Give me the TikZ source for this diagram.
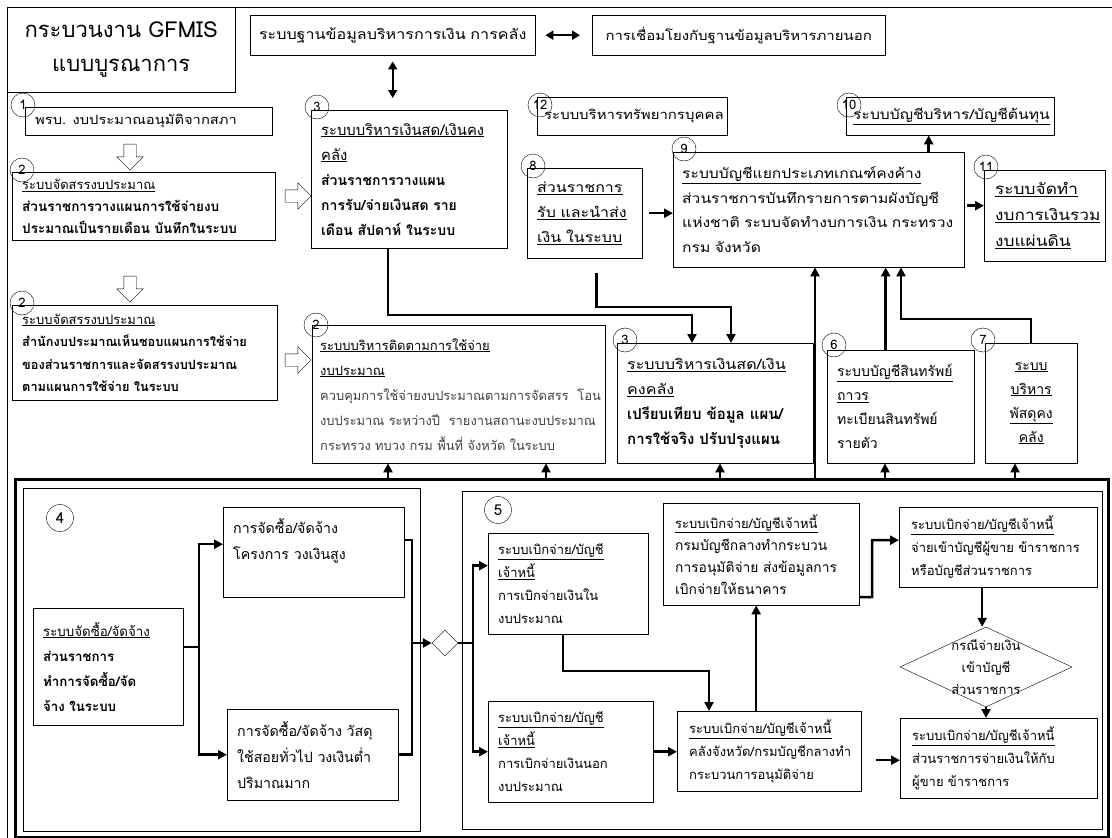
\documentclass[tikz,border=0pt]{standalone}
\usepackage{fontspec}
\setmainfont[Script=Thai]{Loma}
\newfontfamily\wide[Script=Thai,FakeStretch=1.15]{Loma}
\usetikzlibrary{positioning}
\usetikzlibrary{arrows.meta, shapes.geometric, shapes.arrows}

\begin{document}
\begin{tikzpicture}[x=1pt,y=-1pt,
box/.style={draw,rectangle,anchor=north west,align=left,inner xsep=10pt,inner ysep=0pt},
num/.style={draw,circle,minimum size=24pt,inner sep=0pt,font=\fontsize{13}{13}\selectfont},
hollow/.style={draw,single arrow,single arrow head extend=7pt,inner sep=6pt,minimum height=26pt},
flow/.style={line width=2.5pt,-{Triangle[length=9pt,width=9pt]}},
link/.style={line width=2.5pt},
both/.style={line width=2pt,{Triangle[length=8pt,width=9pt]}-{Triangle[length=8pt,width=9pt]}},
mid/.style={font=\fontsize{13}{23}\selectfont}]
\useasboundingbox (0,0) rectangle (1112,838);
\draw (7,838) -- (7,7) -- (1112,7);

\node[draw,anchor=north west,minimum width=228pt,minimum height=85pt,align=center,font=\fontsize{22}{34}\selectfont] (title) at (7,7) {กระบวนงาน GFMIS\\แบบบูรณาการ};
\node[box,align=center,text width=275pt,inner xsep=5pt,minimum height=40pt,font=\wide\fontsize{14}{20}\selectfont] (db) at (250,15) {ระบบฐานข้อมูลบริหารการเงิน การคลัง};
\node[box,align=center,text width=273pt,minimum height=40pt,font=\wide\fontsize{13}{20}\selectfont] (ext) at (592,15) {การเชื่อมโยงกับฐานข้อมูลบริหารภายนอก};
\draw[both,shorten <=10pt,shorten >=12pt] (db) -- (ext);
\draw[both,shorten <=6pt,shorten >=12pt] (db.south) -- (db.south |- 0,110);

\node[box,text width=227pt,minimum height=28pt,inner xsep=10pt,font=\wide\fontsize{12.8}{20}\selectfont] (act) at (25,107) {พรบ. งบประมาณอนุมัติจากสภา};
\node[box,text width=243pt,minimum height=68pt,font=\fontsize{13.5}{22}\selectfont] (alloc) at (12,172) {{\fontsize{13}{22}\selectfont\underline{ระบบจัดสรรงบประมาณ}}\\ {\bfseries ส่วนราชการวางแผนการใช้จ่ายงบ}\\ {\bfseries ประมาณเป็นรายเดือน บันทึกในระบบ}};
\node[box,text width=176pt,minimum height=138pt,font=\fontsize{14}{25}\selectfont] (cash) at (311,110) {{\fontsize{14.8}{25}\selectfont\underline{ระบบบริหารเงินสด/เงินคง}}\\ {\fontsize{14.8}{25}\selectfont\underline{คลัง}}\\ {\bfseries ส่วนราชการวางแผน}\\ {\bfseries การรับ/จ่ายเงินสด ราย}\\ {\bfseries เดือน สัปดาห์ ในระบบ}};
\node[box,text width=176pt,minimum height=38pt,inner xsep=7pt,font=\wide\fontsize{13}{20}\selectfont] (hr) at (537,97) {ระบบบริหารทรัพยากรบุคคล};
\node[box,text width=194pt,minimum height=38pt,inner xsep=7pt,font=\wide\fontsize{13.6}{20}\selectfont] (mgmt) at (846,97) {\underline{ระบบบัญชีบริหาร/บัญชีต้นทุน}};
\node[box,text width=95pt,minimum height=90pt,font=\wide\fontsize{13.9}{25}\selectfont] (recv) at (527,168) {\underline{ส่วนราชการ}\\ \underline{รับ และนำส่ง}\\ \underline{เงิน ในระบบ}};
\node[box,text width=279pt,minimum height=115pt,inner xsep=6pt,font=\wide\fontsize{13.6}{24.5}\selectfont] (gl) at (673,152) {\mbox{\hspace*{3pt}\underline{ระบบบัญชีแยกประเภทเกณฑ์คงค้าง}}\\ \mbox{\hspace*{3pt}ส่วนราชการบันทึกรายการตามผังบัญชี}\\ \mbox{\hspace*{3pt}แห่งชาติ ระบบจัดทำงบการเงิน กระทรวง}\\ \mbox{\hspace*{3pt}กรม จังหวัด}};
\node[box,text width=99pt,minimum height=91pt,inner xsep=11pt,font=\wide\fontsize{15}{26}\selectfont] (fs) at (984,170) {\underline{ระบบจัดทำ}\\ \underline{งบการเงินรวม}\\ \underline{งบแผ่นดิน}};

\node[box,text width=245pt,minimum height=95pt,font=\fontsize{12.8}{22.5}\selectfont] (approve) at (12,305) {{\fontsize{13}{22}\selectfont\underline{ระบบจัดสรรงบประมาณ}}\\ {\bfseries สำนักงบประมาณเห็นชอบแผนการใช้จ่าย}\\ {\bfseries ของส่วนราชการและจัดสรรงบประมาณ}\\ {\bfseries ตามแผนการใช้จ่าย ในระบบ}};
\node[box,text width=277pt,minimum height=138pt,inner xsep=8pt,font=\fontsize{13}{25}\selectfont] (monitor) at (312,325) {\underline{ระบบบริหารติดตามการใช้จ่าย}\\ \underline{งบประมาณ}\\ {\fontsize{12.9}{25}\selectfont\color{black!75}ควบคุมการใช้จ่ายงบประมาณตามการจัดสรร~ โอน}\\ {\fontsize{12.9}{25}\selectfont\color{black!75}งบประมาณ ระหว่างปี~ รายงานสถานะงบประมาณ}\\ {\fontsize{12.9}{25}\selectfont\color{black!75}กระทรวง ทบวง กรม พื้นที่ จังหวัด ในระบบ}};
\node[box,text width=176pt,minimum height=120pt,font=\fontsize{15}{25}\selectfont] (cash2) at (617,343) {{\wide\fontsize{14}{25}\selectfont\underline{ระบบบริหารเงินสด/เงิน}}\\ {\wide\fontsize{14}{25}\selectfont\underline{คงคลัง}}\\ {\bfseries เปรียบเทียบ ข้อมูล แผน/}\\ {\bfseries การใช้จริง ปรับปรุงแผน}};
\node[box,text width=127pt,minimum height=113pt,font=\fontsize{14}{24}\selectfont] (asset) at (827,350) {\underline{ระบบบัญชีสินทรัพย์}\\ \underline{ถาวร}\\ ทะเบียนสินทรัพย์\\ รายตัว};
\node[box,align=center,text width=72pt,minimum height=120pt,font=\fontsize{14}{24}\selectfont] (inv) at (985,343) {\underline{ระบบ}\\ \underline{บริหาร}\\ \underline{พัสดุคง}\\ \underline{คลัง}};

\node[hollow,rotate=-90] (h1) at (130,154) {};
\node[hollow] (h2) at (295,196) {};
\node[hollow,rotate=-90] (h3) at (130,286) {};
\node[hollow] (h4) at (295,360) {};

\node[num] (n1) at (23,105) {1};
\node[num] (n3) at (317,107) {3};
\node[num] (n12) at (540,105) {12};
\node[num] (n10) at (849,105) {10};
\node[num] (n2) at (22,170) {2};
\node[num] (n8) at (533,166) {8};
\node[num] (n9) at (684,149) {9};
\node[num] (n11) at (986,167) {11};
\node[num] (n2b) at (22,303) {2};
\node[num] (n2c) at (316,325) {2};
\node[num] (n3b) at (625,340) {3};
\node[num] (n6) at (834,345) {6};
\node[num] (n7) at (983,340) {7};

\draw[flow,shorten <=7pt] (recv.east) -- (recv.east -| gl.west);
\draw[flow,shorten <=3pt] ([yshift=4pt]gl.east) -- ([yshift=4pt]gl.east -| fs.west);
\draw[flow] ([xshift=110pt]gl.north) -- ([xshift=110pt]gl.north |- mgmt.south);
\coordinate (bendC) at (692,315);
\coordinate (bendD) at (731,307);
\coordinate (bendE) at (901,319);
\draw[flow] ([xshift=-21pt]cash.south) |- (bendC) -- (bendC |- cash2.north);
\draw[flow,shorten <=15pt] ([xshift=12pt]recv.south) |- (bendD) -- (bendD |- cash2.north);
\draw[flow] ([xshift=-15pt]asset.north) -- ([xshift=-15pt]asset.north |- gl.south);
\draw[flow] (inv.north) |- (bendE) -- (bendE |- gl.south);

\node[draw,line width=3pt,anchor=north west,minimum width=1093pt,minimum height=358pt] (lower) at (14,478) {};
\coordinate (t1) at (388,478);
\coordinate (t2) at (546,478);
\coordinate (t3) at (720,478);
\coordinate (t4) at (885,478);
\coordinate (t5) at (1015,478);
\coordinate (t6) at (815,478);
\draw[flow] (t1) -- (t1 |- monitor.south);
\draw[flow] (t2) -- (t2 |- monitor.south);
\draw[flow] (t3) -- (t3 |- cash2.south);
\draw[flow] (t4) -- (t4 |- asset.south);
\draw[flow] (t5) -- (t5 |- inv.south);
\draw[flow] (t6) -- (t6 |- gl.south);

\node[draw,anchor=north west,minimum width=397pt,minimum height=343pt] (buy) at (23,488) {};
\node[draw,anchor=north west,minimum width=640pt,minimum height=338pt] (pay) at (462,491) {};
\node[num,minimum size=27pt,font=\fontsize{15}{15}\selectfont] (n4) at (60,518) {4};
\node[num,minimum size=27pt,font=\fontsize{15}{15}\selectfont] (n5) at (498,510) {5};

\node[box,text width=130pt,minimum height=117pt,inner xsep=10pt,font=\fontsize{13.3}{25}\selectfont] (proc) at (33,608) {\underline{ระบบจัดซื้อ/จัดจ้าง}\\ {\bfseries ส่วนราชการ}\\ {\bfseries ทำการจัดซื้อ/จัด}\\ {\bfseries จ้าง ในระบบ}};
\node[box,text width=161pt,minimum height=90pt,font=\fontsize{14.2}{26}\selectfont] (high) at (223,507) {การจัดซื้อ/จัดจ้าง\\ โครงการ วงเงินสูง\\ ~};
\node[box,text width=151pt,minimum height=91pt,font=\fontsize{14.2}{26}\selectfont] (low) at (227,709) {การจัดซื้อ/จัดจ้าง วัสดุ\\ ใช้สอยทั่วไป วงเงินต่ำ\\ ปริมาณมาก};
\node[draw,diamond,minimum size=26pt,inner sep=0pt] (gate) at (445,643) {};
\coordinate (fork1) at (199,647);
\coordinate (join) at (412,643);
\coordinate (fork2) at (473,643);
\draw[link] (proc.east |- fork1) -- (fork1);
\draw[flow] (fork1) |- ([yshift=8pt]high.west);
\draw[flow] (fork1) |- (low.west);
\draw[link] ([yshift=12pt]high.east) -| (join) |- (low.east);
\draw[flow] (join) -- (gate);
\draw[link] (gate) -- (fork2);

\node[box,mid,text width=140pt,minimum height=101pt] (inb) at (488,533) {\underline{ระบบเบิกจ่าย/บัญชี}\\ \underline{เจ้าหนี้}\\ การเบิกจ่ายเงินใน\\ งบประมาณ};
\node[box,mid,text width=145pt,minimum height=101pt] (outb) at (488,701) {\underline{ระบบเบิกจ่าย/บัญชี}\\ \underline{เจ้าหนี้}\\ การเบิกจ่ายเงินนอก\\ งบประมาณ};
\node[box,text width=172pt,minimum height=102pt,font=\fontsize{13.8}{22}\selectfont,inner xsep=12pt] (cgd) at (663,503) {{\fontsize{13}{22}\selectfont\underline{ระบบเบิกจ่าย/บัญชีเจ้าหนี้}}\\ กรมบัญชีกลางทำกระบวน\\ การอนุมัติจ่าย ส่งข้อมูลการ\\ เบิกจ่ายให้ธนาคาร};
\node[box,mid,text width=160pt,minimum height=80pt,inner xsep=12pt] (prov) at (677,711) {\underline{ระบบเบิกจ่าย/บัญชีเจ้าหนี้}\\ คลังจังหวัด/กรมบัญชีกลางทำ\\ กระบวนการอนุมัติจ่าย};
\node[box,mid,text width=174pt,minimum height=80pt,inner xsep=12pt] (vendor) at (899,507) {\underline{ระบบเบิกจ่าย/บัญชีเจ้าหนี้}\\ จ่ายเข้าบัญชีผู้ขาย ข้าราชการ\\ หรือบัญชีส่วนราชการ};
\node[draw,diamond,aspect=2.15,minimum width=172pt,minimum height=80pt,inner sep=0pt] (case) at (986,667) {};
\node[mid,align=center,font=\fontsize{13}{22}\selectfont] (casetext) at (case) {กรณีจ่ายเงิน\\ เข้าบัญชี\\ ส่วนราชการ};
\node[box,mid,text width=173pt,minimum height=80pt,inner xsep=12pt] (agency) at (900,718) {\underline{ระบบเบิกจ่าย/บัญชีเจ้าหนี้}\\ ส่วนราชการจ่ายเงินให้กับ\\ ผู้ขาย ข้าราชการ};

\coordinate (bendA) at (709,671);
\coordinate (bendB) at (872,597);
\draw[flow] (fork2) |- ([yshift=18pt]inb.west);
\draw[flow] (fork2) |- (outb.west);
\draw[flow] ([xshift=-5pt]inb.south) |- (bendA) -- (bendA |- prov.north);
\draw[flow] (outb.east) -- (outb.east -| prov.west);
\draw[flow] ([xshift=-13pt]prov.north) -- ([xshift=-13pt]prov.north |- cgd.south);
\draw[flow] ([yshift=-43pt]cgd.east) -- (bendB) |- ([yshift=7pt]vendor.west);
\draw[flow] ([xshift=-16pt]vendor.south) -- ([xshift=-16pt]vendor.south |- case.north);
\draw[flow] (case.south) -- (case.south |- agency.north);
\draw[flow,shorten <=15pt] ([yshift=-9pt]prov.east) -- ([yshift=-9pt]prov.east -| agency.west);
\end{tikzpicture}
\end{document}
